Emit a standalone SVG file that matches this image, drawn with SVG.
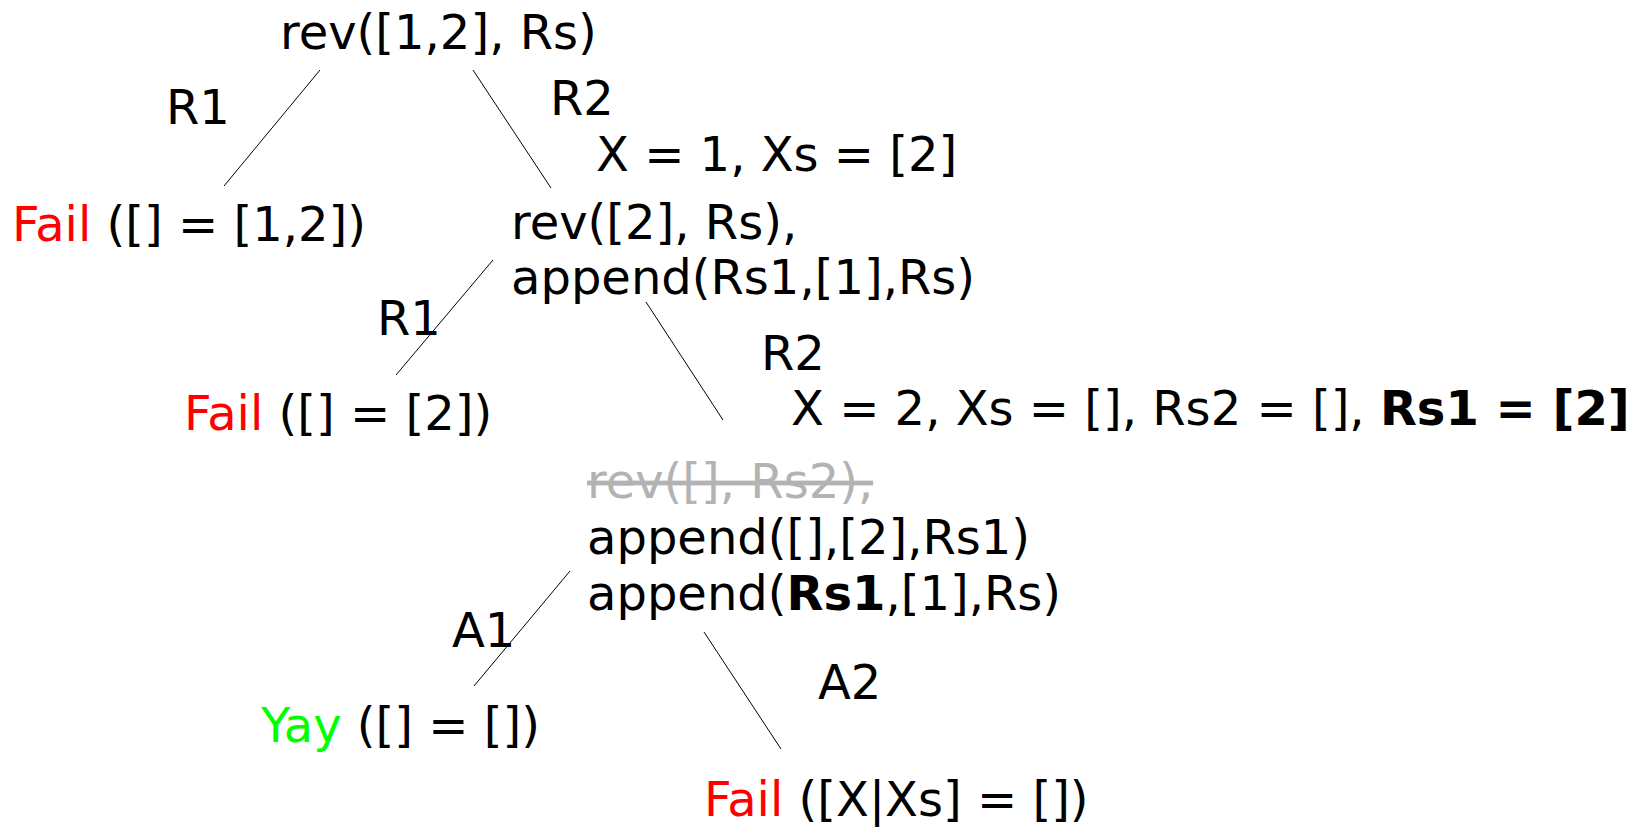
<svg xmlns="http://www.w3.org/2000/svg" width="1637" height="830" viewBox="0 0 1637 830">
<style>
text { font-family: "DejaVu Sans", "Liberation Sans", sans-serif; font-size: 48px; fill: #000; }
.fail { fill: #ff0000; }
.yay { fill: #00ff00; }
.b { font-weight: bold; }
.gray { fill: #b3b3b3; text-decoration: line-through; }
.edge { stroke: #000; stroke-width: 1; fill: none; }
</style>
<rect width="1637" height="830" fill="#fff"/>
<g id="connectors">
<line class="edge" x1="320" y1="70" x2="224" y2="186"/>
<line class="edge" x1="473" y1="70" x2="551" y2="188"/>
<line class="edge" x1="493" y1="260" x2="396" y2="375"/>
<line class="edge" x1="646" y1="302" x2="723" y2="420"/>
<line class="edge" x1="570" y1="571" x2="474" y2="686"/>
<line class="edge" x1="704" y1="632" x2="781" y2="749"/>
</g>
<g id="labels">
<text x="166" y="124">R1</text>
<text x="550" y="115">R2</text>
<text x="596" y="171">X = 1, Xs = [2]</text>
<text x="377" y="335">R1</text>
<text x="761" y="370">R2</text>
<text x="791" y="425">X = 2, Xs = [], Rs2 = [], <tspan class="b">Rs1 = [2]</tspan></text>
<text x="452" y="647">A1</text>
<text x="818" y="699">A2</text>
</g>
<g id="root">
<text x="280" y="49">rev([1,2], Rs)</text>
</g>
<g id="fail1">
<text x="12" y="241"><tspan class="fail">Fail</tspan> ([] = [1,2])</text>
</g>
<g id="goal2">
<text x="511" y="239">rev([2], Rs),</text>
<text x="511" y="294">append(Rs1,[1],Rs)</text>
</g>
<g id="fail2">
<text x="184" y="430"><tspan class="fail">Fail</tspan> ([] = [2])</text>
</g>
<g id="goal3">
<text class="gray" x="587" y="498">rev([], Rs2),</text>
<text x="587" y="554">append([],[2],Rs1)</text>
<text x="587" y="610">append(<tspan class="b">Rs1</tspan>,[1],Rs)</text>
</g>
<g id="yay">
<text x="261" y="742"><tspan class="yay">Yay</tspan> ([] = [])</text>
</g>
<g id="fail3">
<text x="704" y="816"><tspan class="fail">Fail</tspan> ([X|Xs] = [])</text>
</g>
</svg>
